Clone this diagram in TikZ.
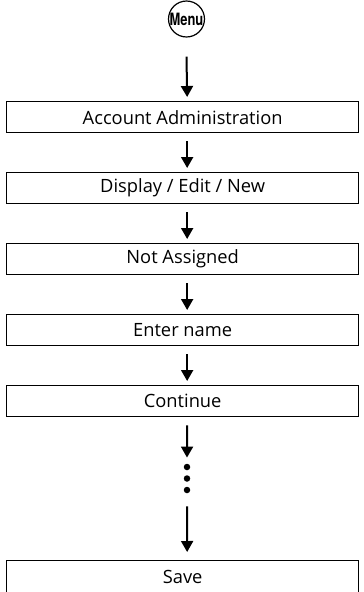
\documentclass[tikz,border=0pt]{standalone}
\usepackage{fontspec}
\setmainfont{Open Sans}
\newfontfamily\menufont[FakeStretch=0.76]{TeX Gyre Heros}
\usetikzlibrary{arrows.meta}
\begin{document}
\begin{tikzpicture}[x=1pt,y=-1pt,
  stepbox/.style={draw, line width=1.3pt, minimum width=352pt, minimum height=31pt,
    inner sep=0pt, font=\fontsize{18.3}{20}\selectfont, anchor=north west},
  menucircle/.style={draw, circle, line width=1.2pt, minimum size=35pt, inner sep=0pt,
    font=\menufont\bfseries\fontsize{17}{19}\selectfont},
  flow/.style={line width=2pt, -{Triangle[width=12pt,length=11pt]}},
  dot/.style={fill=black, circle, minimum size=6.5pt, inner sep=0pt}
]
\useasboundingbox (0,0) rectangle (364,592);
\node[menucircle] (menu) at (186.5,19) {Menu};
\node[stepbox] (b1) at (6,101) {Account Administration};
\node[stepbox] (b2) at (6,172) {Display / Edit / New};
\node[stepbox] (b3) at (6,243) {Not Assigned};
\node[stepbox] (b4) at (6,314) {Enter name};
\node[stepbox] (b5) at (6,385) {Continue};
\node[stepbox, minimum height=33pt] (b6) at (6,560) {Save};
\node[dot] (d1) at (187,467) {};
\node[dot] (d2) at (187,478.5) {};
\node[dot] (d3) at (187,490) {};
\draw[flow] ([yshift=-19pt]menu.south) -- ([xshift=4.5pt,yshift=4pt]b1.north);
\draw[flow] ([xshift=4.5pt,yshift=-8pt]b1.south) -- ([xshift=4.5pt,yshift=4pt]b2.north);
\draw[flow] ([xshift=4.5pt,yshift=-8pt]b2.south) -- ([xshift=4.5pt,yshift=4pt]b3.north);
\draw[flow] ([xshift=4.5pt,yshift=-8pt]b3.south) -- ([xshift=4.5pt,yshift=4pt]b4.north);
\draw[flow] ([xshift=4.5pt,yshift=-8pt]b4.south) -- ([xshift=4.5pt,yshift=4pt]b5.north);
\draw[flow] ([xshift=4.5pt,yshift=-8pt]b5.south) -- ([yshift=6pt]d1.north);
\draw[flow] ([yshift=-13pt]d3.south) -- ([xshift=4.5pt,yshift=8pt]b6.north);
\end{tikzpicture}
\end{document}
